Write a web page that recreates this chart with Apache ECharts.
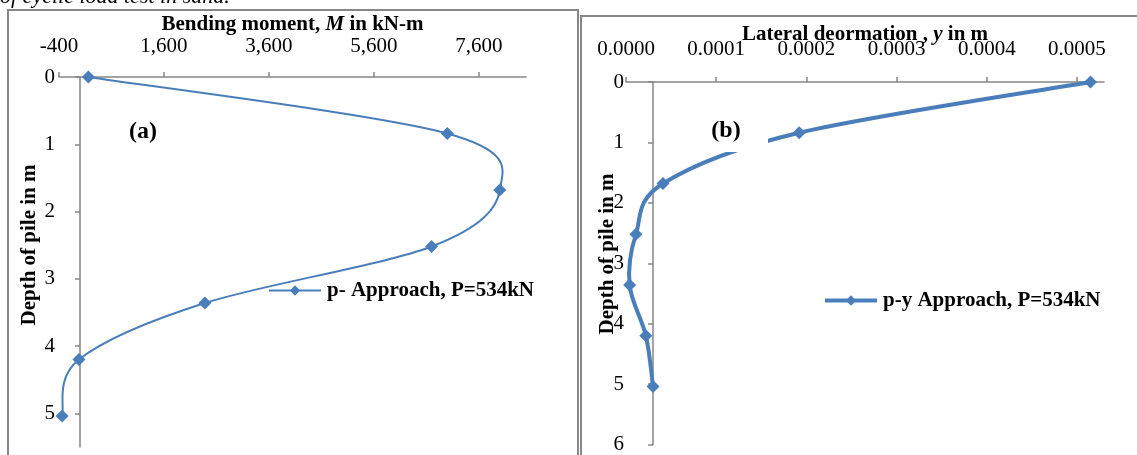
<!DOCTYPE html>
<html>
<head>
<meta charset="utf-8">
<script src="https://cdn.jsdelivr.net/npm/echarts@6/dist/echarts.min.js"></script>
<style>
  html, body { margin: 0; padding: 0; background: #fff; }
  #chart { width: 1137px; height: 455px; }
</style>
</head>
<body>
<div id="chart"></div>
<script>
// Depth below pile head (m), shared by both panels
const depthM = [0, 0.84, 1.68, 2.52, 3.36, 4.2, 5.04];
// (a) bending moment along the pile, kN-m
const bendingMoment = [160, 7000, 8000, 6700, 2380, -20, -340];
// (b) lateral deformation along the pile, m
const lateralDeformation = [0.000485, 0.000162, 0.000011, -0.000019, -0.000026, -0.000008, 0.0];

// Axis ticks
const momentTickValues = [-400, 1600, 3600, 5600, 7600];
const momentTickLabels = ['-400', '1,600', '3,600', '5,600', '7,600'];
const deformTickValues = [-0.00003, 0.00007, 0.00017, 0.00027, 0.00037, 0.00047];
const deformTickLabels = ['0.0000', '0.0001', '0.0002', '0.0003', '0.0004', '0.0005'];
const depthTicksA = [0, 1, 2, 3, 4, 5];
const depthTicksB = [0, 1, 2, 3, 4, 5, 6];

const seriesA = 'p- Approach, P=534kN';
const seriesB = 'p-y Approach, P=534kN';

const FONT = "'Liberation Serif', 'Times New Roman', serif";
const BLUE = '#4a7ebb';
const AXIS = '#868686';

function pick(values, labels) {
  return function (v) {
    let best = 0, d = Infinity;
    values.forEach(function (t, i) {
      const e = Math.abs(t - v);
      if (e < d) { d = e; best = i; }
    });
    return labels[best];
  };
}

const pointsA = depthM.map((d, i) => [bendingMoment[i], d]);
const pointsB = depthM.map((d, i) => [lateralDeformation[i], d]);

// Smoothed profile: one cubic Bezier per segment, Catmull-Rom style control
// points computed in pixel space from neighbouring data points.
function smoothSegment(points, width) {
  return function (params, api) {
    const i = params.dataIndex;
    if (i >= points.length - 1) return null;
    const px = points.map(p => api.coord(p));
    const p0 = px[Math.max(i - 1, 0)];
    const p1 = px[i];
    const p2 = px[i + 1];
    const p3 = px[Math.min(i + 2, px.length - 1)];
    const t = 1 / 6;
    return {
      type: 'bezierCurve',
      silent: true,
      shape: {
        x1: p1[0], y1: p1[1], x2: p2[0], y2: p2[1],
        cpx1: p1[0] + (p2[0] - p0[0]) * t, cpy1: p1[1] + (p2[1] - p0[1]) * t,
        cpx2: p2[0] - (p3[0] - p1[0]) * t, cpy2: p2[1] - (p3[1] - p1[1]) * t
      },
      style: { stroke: BLUE, lineWidth: width, fill: null, lineCap: 'round' }
    };
  };
}

const axisLine = { show: true, onZero: true, lineStyle: { color: AXIS, width: 1.5 } };
const axisTick = { show: true, length: 5, lineStyle: { color: AXIS, width: 1.5 } };
const boldRich = {
  b: { fontFamily: FONT, fontWeight: 'bold', fontSize: 21, color: '#000' },
  i: { fontFamily: FONT, fontWeight: 'bold', fontStyle: 'italic', fontSize: 21, color: '#000' }
};

const chart = echarts.init(document.getElementById('chart'), null, { renderer: 'canvas' });

chart.setOption({
  animation: false,
  backgroundColor: '#fff',
  textStyle: { fontFamily: FONT },
  grid: [
    { left: 59, top: 77, width: 467, height: 370 },
    { left: 626, top: 82, width: 478, height: 366 }
  ],
  xAxis: [
    {
      gridIndex: 0, type: 'value', position: 'top',
      min: -400, max: 8500,
      name: '{b|Bending moment, }{i|M}{b| in kN-m}',
      nameLocation: 'middle', nameGap: 42, nameMoveOverlap: false,
      nameTextStyle: { rich: boldRich },
      axisLine: Object.assign({}, axisLine, { onZero: false }),
      axisTick: Object.assign({ customValues: momentTickValues }, axisTick),
      axisLabel: {
        customValues: momentTickValues, formatter: pick(momentTickValues, momentTickLabels),
        fontFamily: FONT, fontSize: 21, color: '#000', margin: 20
      },
      splitLine: { show: false }
    },
    {
      gridIndex: 1, type: 'value', position: 'top',
      min: -0.00003, max: 0.0005,
      name: '{b|Lateral deormation , }{i|y}{b| in m}',
      nameLocation: 'middle', nameGap: 37, nameMoveOverlap: false,
      nameTextStyle: { rich: boldRich },
      axisLine: Object.assign({}, axisLine, { onZero: false }),
      axisTick: Object.assign({ customValues: deformTickValues }, axisTick),
      axisLabel: {
        customValues: deformTickValues, formatter: pick(deformTickValues, deformTickLabels),
        fontFamily: FONT, fontSize: 21, color: '#000', margin: 22
      },
      splitLine: { show: false }
    }
  ],
  yAxis: [
    {
      gridIndex: 0, type: 'value', inverse: true, min: 0, max: 5.5,
      axisLine: axisLine,
      axisTick: Object.assign({ customValues: depthTicksA }, axisTick),
      axisLabel: {
        customValues: depthTicksA, formatter: v => String(Math.round(v)),
        fontFamily: FONT, fontSize: 21, color: '#000', margin: 4
      },
      splitLine: { show: false }
    },
    {
      gridIndex: 1, type: 'value', inverse: true, min: 0, max: 6,
      axisLine: axisLine,
      axisTick: Object.assign({ customValues: depthTicksB }, axisTick),
      axisLabel: {
        customValues: depthTicksB, formatter: v => String(Math.round(v)),
        fontFamily: FONT, fontSize: 21, color: '#000', margin: 2
      },
      splitLine: { show: false }
    }
  ],
  legend: [
    {
      data: [seriesA], left: 268, top: 280, padding: 0,
      itemWidth: 52, itemHeight: 13, itemGap: 0,
      lineStyle: { color: BLUE, width: 2, opacity: 1 },
      textStyle: { fontFamily: FONT, fontWeight: 'bold', fontSize: 21, color: '#000', padding: [0, 0, 0, 1] }
    },
    {
      data: [seriesB], left: 823, top: 290, padding: 0,
      itemWidth: 52, itemHeight: 13, itemGap: 0,
      lineStyle: { color: BLUE, width: 4, opacity: 1 },
      textStyle: { fontFamily: FONT, fontWeight: 'bold', fontSize: 21, color: '#000', padding: [0, 0, 0, 1] }
    }
  ],
  series: [
    {
      type: 'custom', xAxisIndex: 0, yAxisIndex: 0, z: 1,
      data: pointsA, renderItem: smoothSegment(pointsA, 2), clip: false
    },
    {
      type: 'custom', xAxisIndex: 1, yAxisIndex: 1, z: 1,
      data: pointsB, renderItem: smoothSegment(pointsB, 4), clip: false
    },
    {
      name: seriesA, type: 'line', xAxisIndex: 0, yAxisIndex: 0, z: 3,
      data: pointsA,
      symbol: 'diamond', symbolSize: 13,
      lineStyle: { color: BLUE, width: 2, opacity: 0 },
      itemStyle: { color: BLUE }
    },
    {
      name: seriesB, type: 'line', xAxisIndex: 1, yAxisIndex: 1, z: 3,
      data: pointsB,
      symbol: 'diamond', symbolSize: 13,
      lineStyle: { color: BLUE, width: 4, opacity: 0 },
      itemStyle: { color: BLUE }
    }
  ],
  graphic: [
    // panel frames
    { type: 'rect', z: 0, silent: true, shape: { x: 8, y: 10, width: 570, height: 470 },
      style: { fill: null, stroke: '#878787', lineWidth: 2 } },
    { type: 'rect', z: 0, silent: true, shape: { x: 581, y: 16, width: 600, height: 470 },
      style: { fill: null, stroke: '#878787', lineWidth: 2 } },
    // running text above the figure
    { type: 'text', z: 50, left: 0, top: -14,
      style: { text: 'of cyclic load test in sand.', font: "italic 22px 'Liberation Serif', serif", fill: '#000' } },
    // panel labels
    { type: 'text', z: 50, x: 143, y: 132,
      style: { text: '(a)', font: "bold 24px 'Liberation Serif', serif", fill: '#000', align: 'center', verticalAlign: 'middle' } },
    { type: 'rect', z: 40, silent: true, shape: { x: 698, y: 108, width: 70, height: 44 },
      style: { fill: '#fff', stroke: null } },
    { type: 'text', z: 50, x: 726, y: 131,
      style: { text: '(b)', font: "bold 24px 'Liberation Serif', serif", fill: '#000', align: 'center', verticalAlign: 'middle' } },
    // depth axis titles
    { type: 'text', z: 50, x: 30, y: 245, rotation: Math.PI / 2,
      style: { text: 'Depth of pile in m', font: "bold 21px 'Liberation Serif', serif", fill: '#000', align: 'center', verticalAlign: 'middle' } },
    { type: 'text', z: 50, x: 608, y: 254, rotation: Math.PI / 2,
      style: { text: 'Depth of pile in m', font: "bold 21px 'Liberation Serif', serif", fill: '#000', align: 'center', verticalAlign: 'middle' } }
  ]
});
</script>
</body>
</html>
